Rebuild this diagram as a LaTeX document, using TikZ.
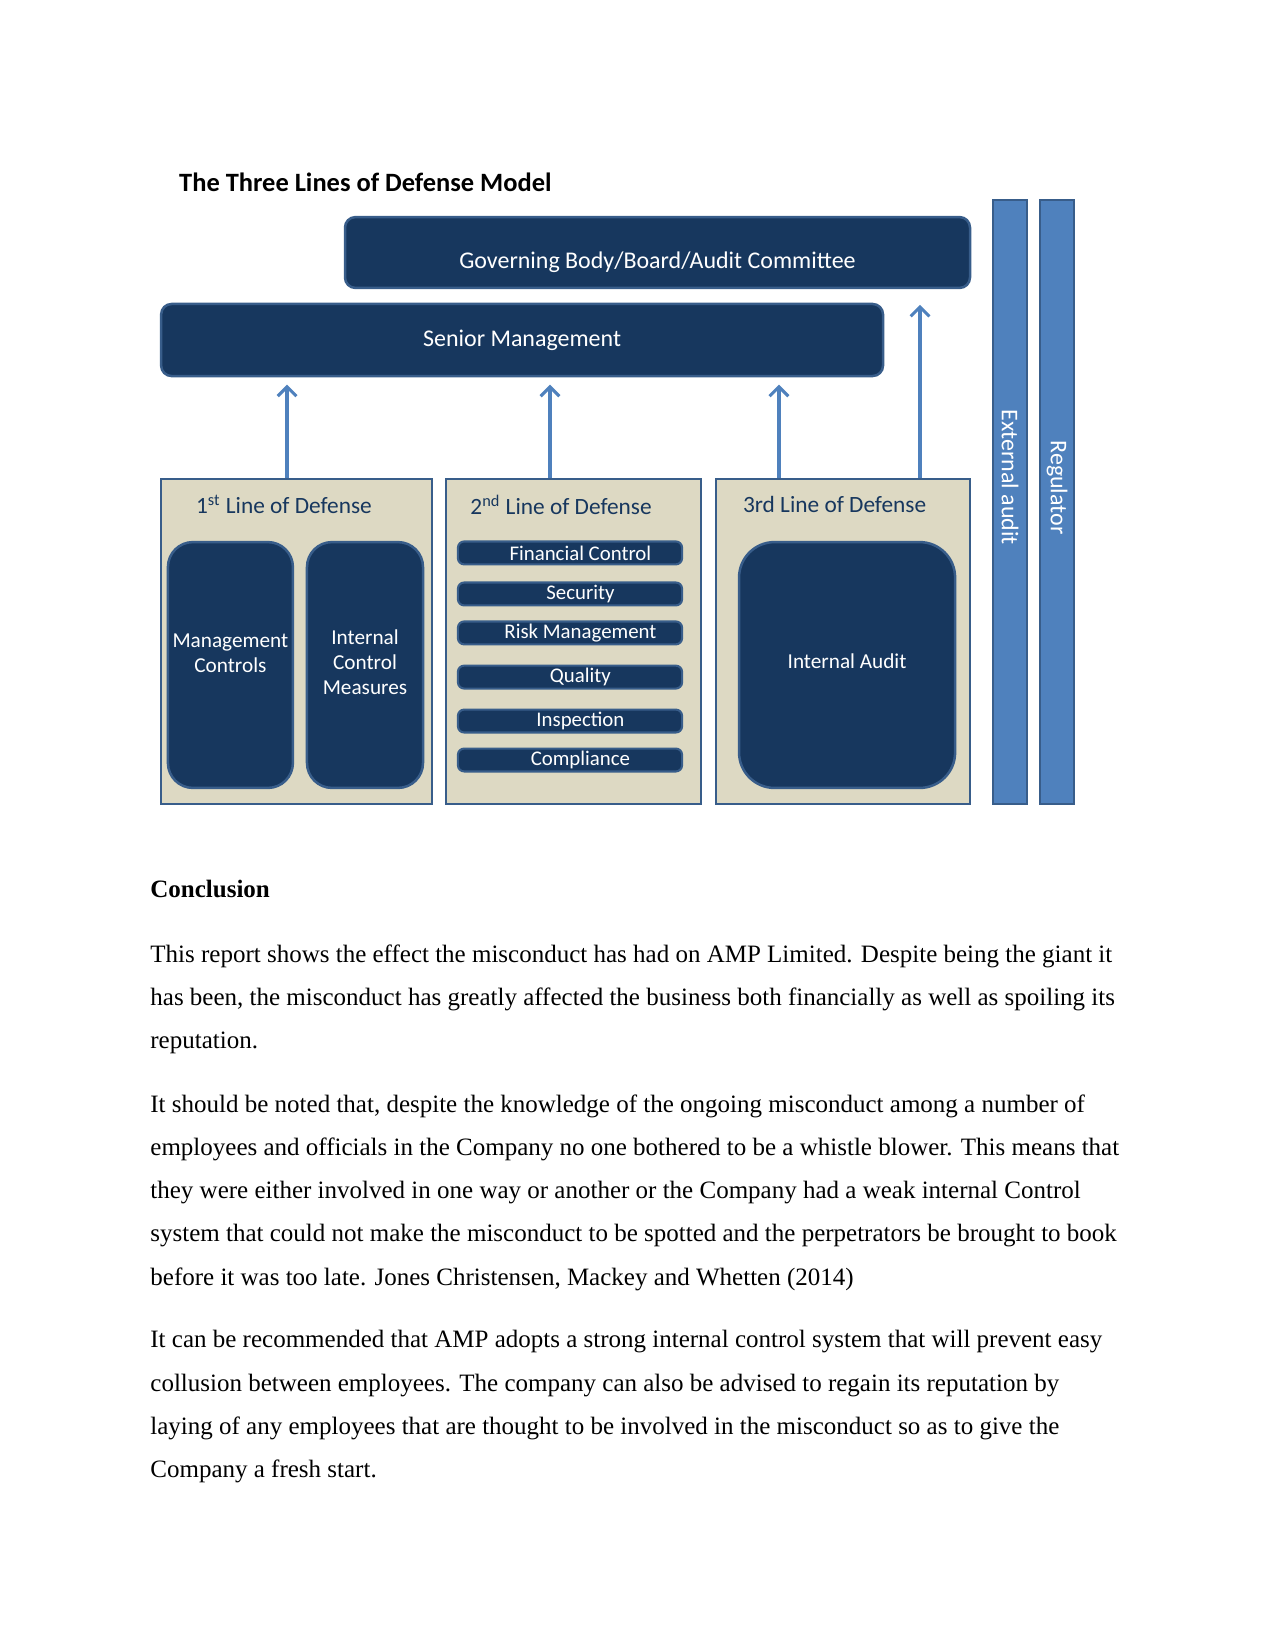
\documentclass[tikz,border=0pt]{standalone}
\usepackage{fontspec}
\setmainfont{Liberation Serif}
\newfontfamily\calibri{Carlito}
\usepackage{tikz}
\usetikzlibrary{positioning,arrows.meta}
\definecolor{LODNavy}{HTML}{17375E}
\definecolor{LODEdge}{HTML}{385D8A}
\definecolor{LODTan}{HTML}{DDD9C3}
\definecolor{LODBlue}{HTML}{4F81BD}

\begin{document}
\begin{tikzpicture}[x=1pt,y=-1pt,>={Straight Barb[length=4.5pt,width=9pt,line width=1.5pt]}]
  \tikzstyle{navybox}=[draw=LODEdge,fill=LODNavy,line width=1.2pt,text=white,
    align=center,inner sep=1pt,font=\calibri\fontsize{11.5}{13}\selectfont]
  \tikzstyle{boxtext}=[text=white,align=center,inner sep=0pt,
    font=\calibri\fontsize{10.2}{12}\selectfont]
  \tikzstyle{linebox}=[draw=LODEdge,fill=LODTan,line width=1.3pt,minimum height=156pt]
  \tikzstyle{linetitle}=[text=LODNavy,font=\calibri\fontsize{11.2}{13}\selectfont]
  \tikzstyle{itembox}=[navybox,line width=1pt,rounded corners=3pt,inner sep=0pt,
    minimum width=107.6pt,minimum height=11pt,font=\calibri\fontsize{10}{11}\selectfont]
  \tikzstyle{sidebar}=[draw=LODEdge,fill=LODBlue,line width=1pt,
    minimum width=16.3pt,minimum height=290pt]
  \tikzstyle{sidetext}=[rotate=-90,text=white,font=\calibri\fontsize{11.5}{13}\selectfont]
  \tikzstyle{uparrow}=[->,color=LODBlue,line width=1.6pt]
  \tikzstyle{para}=[anchor=base west,align=left,inner sep=0pt,
    font=\fontsize{12}{20.7}\selectfont]
  \useasboundingbox (0,0) rectangle (612,792.48);

  \node[anchor=base west,font=\calibri\bfseries\fontsize{12.7}{14}\selectfont] (ttl)
    at (82.5,92) {The Three Lines of Defense Model};
  \node[navybox,rounded corners=5pt,minimum width=300pt,minimum height=34pt,
    text height=16.6pt,text depth=1.5pt] (gb)
    at (315.6,121.2) {Governing Body/Board/Audit Committee};
  \node[navybox,rounded corners=5pt,minimum width=346.5pt,minimum height=34.6pt] (sm)
    at (250.6,163.2) {Senior Management};

  \node[linebox,minimum width=130pt] (l1) at (142.3,307.9) {};
  \node[linebox,minimum width=122.4pt] (l2) at (275.3,307.9) {};
  \node[linebox,minimum width=121.9pt] (l3) at (404.6,307.9) {};
  \node[linetitle] (t1) at ([xshift=-6pt,yshift=-13pt]l1.north) {1\textsuperscript{st} Line of Defense};
  \node[linetitle] (t2) at ([xshift=-6pt,yshift=-13pt]l2.north) {2\textsuperscript{nd} Line of Defense};
  \node[linetitle] (t3) at ([xshift=-4pt,yshift=-13pt]l3.north) {3rd Line of Defense};

  \node[navybox,rounded corners=12pt,minimum width=60pt,minimum height=118pt] (mc)
    at (110.6,319.2) {};
  \node[navybox,rounded corners=12pt,minimum width=55.7pt,minimum height=118pt] (icm)
    at (175.2,319.2) {};
  \node[navybox,rounded corners=17pt,minimum width=103.7pt,minimum height=118pt] (ia)
    at (406.6,319.2) {};
  \node[boxtext] (mct) at ([yshift=5.5pt]mc.center) {Management\\Controls};
  \node[boxtext] (icmt) at ([yshift=1.5pt]icm.center) {Internal\\Control\\Measures};
  \node[boxtext] (iat) at ([yshift=2pt]ia.center) {Internal Audit};

  \foreach \nm/\yy/\txt in {fc/265.4/Financial Control,sec/285.1/Security,
      rm/303.8/Risk Management,qu/325/Quality,ins/346.1/Inspection,com/364.8/Compliance}
    \node[itembox] (\nm) at (273.6,\yy) {\hspace*{10pt}\txt};

  \node[sidebar] (ea) at (484.8,241) {};
  \node[sidebar] (rg) at (507.4,241) {};
  \node[sidetext] (eat) at ([yshift=12pt]ea.center) {External audit};
  \node[sidetext] (rgt) at ([yshift=7pt]rg.center) {Regulator};

  \draw[uparrow,shorten >=3.5pt] ([xshift=-4.5pt]l1.north) -- ([xshift=-4.5pt]l1.north |- sm.south);
  \draw[uparrow,shorten >=3.5pt] ([xshift=-11.3pt]l2.north) -- ([xshift=-11.3pt]l2.north |- sm.south);
  \draw[uparrow,shorten >=3.5pt] ([xshift=-30.7pt]l3.north) -- ([xshift=-30.7pt]l3.north |- sm.south);
  \draw[uparrow,shorten >=7.5pt] ([xshift=37pt]l3.north) -- ([xshift=37pt]l3.north |- gb.south);

  \node[anchor=base west,inner sep=0pt,font=\bfseries\fontsize{12}{14}\selectfont] (conc)
    at (72,431) {Conclusion};
  \node[para] (p1) at (72,503.4) {This report shows the effect the misconduct has had on AMP Limited. Despite being the giant it\\
    has been, the misconduct has greatly affected the business both financially as well as spoiling its\\
    reputation.};
  \node[para] (p2) at (72,616.8) {It should be noted that, despite the knowledge of the ongoing misconduct among a number of\\
    employees and officials in the Company no one bothered to be a whistle blower. This means that\\
    they were either involved in one way or another or the Company had a weak internal Control\\
    system that could not make the misconduct to be spotted and the perpetrators be brought to book\\
    before it was too late. Jones Christensen, Mackey and Whetten (2014)};
  \node[para] (p3) at (72,709.1) {It can be recommended that AMP adopts a strong internal control system that will prevent easy\\
    collusion between employees. The company can also be advised to regain its reputation by\\
    laying of any employees that are thought to be involved in the misconduct so as to give the\\
    Company a fresh start.};
\end{tikzpicture}
\end{document}
